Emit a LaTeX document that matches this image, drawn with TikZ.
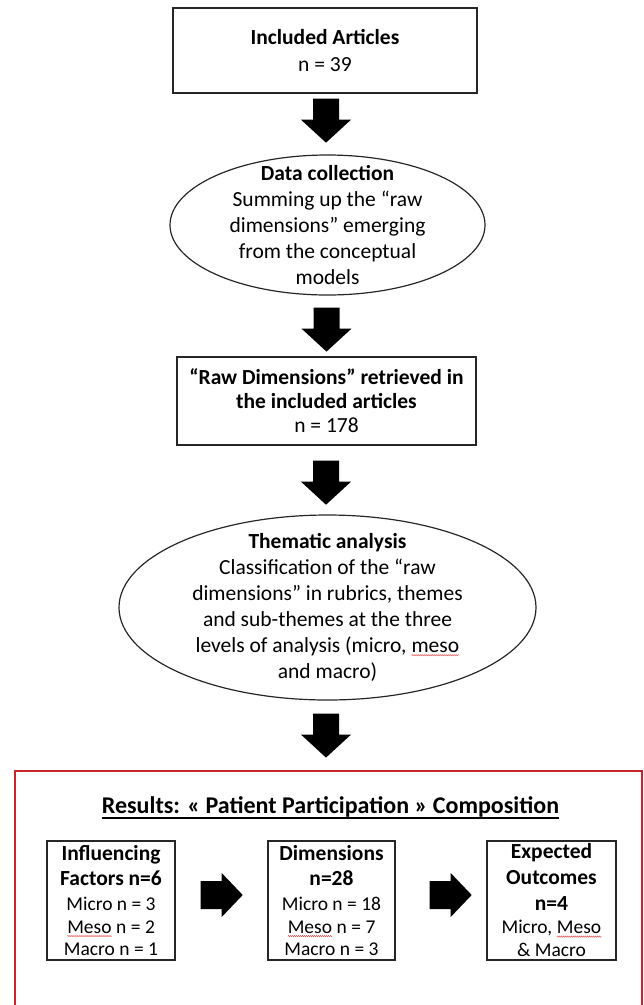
\documentclass[tikz,border=0pt]{standalone}
\usepackage{fontspec}
\setmainfont{Carlito}
\usetikzlibrary{shapes.geometric,decorations.pathmorphing,calc}
\definecolor{redbox}{RGB}{200,35,40}
\definecolor{squig}{RGB}{225,70,70}
\newcommand\sqw[1]{\tikz[baseline=(sqw.base)]{\node[shape=rectangle,inner sep=0pt,outer sep=0pt,draw=none,minimum width=0pt,minimum height=0pt,anchor=base](sqw) at (0,0){#1};\draw[squig,line width=0.45pt,decorate,decoration={snake,amplitude=0.6pt,segment length=2pt}]([yshift=-2.6pt]sqw.base west)--([yshift=-2.6pt]sqw.base east);}}
\begin{document}
\begin{tikzpicture}[x=1pt,y=-1pt,
  txt/.style={font=\fontsize{21.5}{26}\selectfont, align=center, inner sep=0pt},
  bigbox/.style={draw=black!85, line width=1.4pt, inner sep=0pt},
  ell/.style={draw=black!85, line width=1.2pt, ellipse, inner sep=0pt},
  smallbox/.style={draw=black!85, line width=1.4pt, inner sep=0pt, minimum width=128pt, minimum height=119pt, align=center, font=\fontsize{19.5}{23}\selectfont},
  varrow/.pic={\fill[black] (-13,0)--(13,0)--(13,21)--(25,21)--(0,44)--(-25,21)--(-13,21)--cycle;},
  harrow/.pic={\fill[black] (0,-14)--(21,-14)--(21,-22)--(42,0)--(21,22)--(21,14)--(0,14)--cycle;}
]
\useasboundingbox (0,0) rectangle (644,1005);
\clip (0,0) rectangle (644,1005);

% Included articles
\node[bigbox, txt, minimum width=304pt, minimum height=85pt] (inc) at (325,50.5)
  {{\bfseries Included Articles}\\[1pt] n = 39};

% Data collection
\node[ell, minimum width=315pt, minimum height=140pt] (dc) at (327.5,225) {};
\node[txt] (dct) at (dc.center)
  {{\bfseries Data collection}\\ Summing up the “raw\\ dimensions” emerging\\ from the conceptual\\ models};

% Raw dimensions
\node[bigbox, txt, font=\fontsize{21.5}{24}\selectfont, minimum width=299pt, minimum height=88pt] (raw) at (326.5,401)
  {{\bfseries “Raw Dimensions” retrieved in}\\ {\bfseries the included articles}\\ n = 178};

% Thematic analysis
\node[ell, minimum width=417pt, minimum height=185pt] (ta) at (327.5,607.5) {};
\node[txt] (tat) at (ta.center)
  {{\bfseries Thematic analysis}\\ Classification of the “raw\\ dimensions” in rubrics, themes\\ and sub-themes at the three\\ levels of analysis (micro, \sqw{meso}\\ and macro)};

% vertical block arrows
\pic at ($(inc.south)+(1,5)$) {varrow};
\pic at ($(dc.south)+(-1,12)$) {varrow};
\pic at ($(raw.south)+(-0.5,15)$) {varrow};
\pic at ($(ta.south)+(-1.5,13)$) {varrow};

% Results frame
\node[draw=redbox, line width=1.8pt, anchor=north west, minimum width=627pt, minimum height=260pt, inner sep=0pt] (res) at (14,770) {};
\node[inner sep=0pt, font=\bfseries\fontsize{24}{28}\selectfont] (title) at (330.5,807)
  {Results: « Patient Participation » Composition};
\draw[line width=1.3pt] ([yshift=-4.5pt]title.base west) -- ([yshift=-4.5pt]title.base east);

% Small boxes
\node[smallbox] (inf) at (111,900.5)
  {{\bfseries\fontsize{21.5}{23}\selectfont Influencing}\\[2pt]
   {\bfseries\fontsize{21.5}{23}\selectfont Factors n=6}\\[2pt]
   Micro n = 3\\ \sqw{Meso} n = 2\\[-1pt] Macro n = 1};
\node[smallbox, minimum width=127pt] (dim) at (331.5,900.5)
  {{\bfseries\fontsize{21.5}{23}\selectfont Dimensions}\\[2pt]
   {\bfseries\fontsize{21.5}{23}\selectfont n=28}\\[2pt]
   Micro n = 18\\ \sqw{Meso} n = 7\\[-1pt] Macro n = 3};
\node[smallbox, minimum width=129pt] (out) at (551.5,900.5)
  {{\bfseries\fontsize{21.5}{23}\selectfont Expected}\\[3pt]
   {\bfseries\fontsize{21.5}{23}\selectfont Outcomes}\\[3pt]
   {\bfseries\fontsize{21.5}{23}\selectfont n=4}\\
   Micro, \sqw{Meso}\\ \& Macro};

% horizontal block arrows
\pic at ($(inf.east)+(25,-5.5)$) {harrow};
\pic at ($(dim.east)+(34,-5.5)$) {harrow};
\end{tikzpicture}
\end{document}
